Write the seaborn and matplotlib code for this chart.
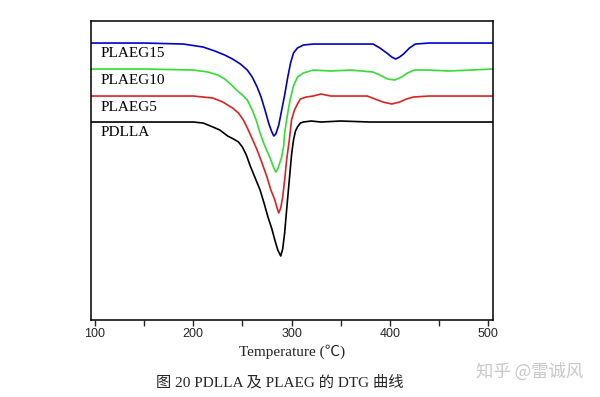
import numpy as np
import pandas as pd
import matplotlib
matplotlib.use("Agg")
import matplotlib.pyplot as plt
import seaborn as sns
from matplotlib.ticker import MultipleLocator

# DTG curves (arbitrary units, larger = deeper peak)
t_pdlla = [96, 150, 200, 210, 220, 227, 235, 241, 246, 250, 254, 258, 263, 268, 272, 276,
           280, 283, 286, 289, 291, 293, 295, 298, 300, 302, 304, 306, 309, 312, 320, 330,
           350, 380, 420, 460, 505]
d_pdlla = [122, 122, 122, 123, 127, 130, 136, 139, 142, 147, 155, 166, 178, 190, 203, 217,
           229, 240, 250, 256, 249, 233, 210, 177, 155, 140, 131, 127, 123, 122, 121, 122,
           121, 122, 122, 122, 122]

t_plaeg5 = [96, 150, 200, 220, 230, 240, 246, 251, 256, 261, 265, 270, 275, 279, 283, 285,
            287, 289, 291, 293, 295, 298, 300, 303, 306, 309, 315, 322, 330, 340, 377, 385,
            393, 402, 410, 417, 424, 440, 505]
d_plaeg5 = [96, 96, 96, 98, 102, 108, 113, 120, 130, 141, 150, 163, 177, 190, 200, 207,
            213, 208, 197, 180, 160, 138, 120, 110, 104, 99, 97, 96, 94, 96, 96, 99,
            102, 104, 102, 99, 97, 96, 96]

t_plaeg10 = [96, 150, 200, 215, 225, 232, 238, 244, 250, 255, 260, 264, 268, 272, 276, 279,
             282, 284, 286, 288, 290, 292, 293, 295, 297, 299, 302, 306, 312, 322, 340, 360,
             383, 390, 398, 405, 412, 418, 425, 440, 460, 505]
d_plaeg10 = [69, 69, 70, 72, 75, 79, 84, 90, 95, 100, 110, 120, 133, 144, 153, 160,
             168, 172, 169, 163, 157, 146, 133, 120, 108, 98, 86, 77, 73, 70, 71, 70,
             72, 75, 79, 80, 77, 73, 70, 70, 71, 69]

t_plaeg15 = [96, 150, 190, 210, 222, 232, 240, 248, 255, 260, 265, 269, 273, 277, 280, 282,
             284, 287, 290, 293, 296, 299, 302, 306, 312, 322, 350, 383, 390, 397, 402, 406,
             410, 414, 420, 426, 440, 505]
d_plaeg15 = [43, 43, 44, 47, 51, 55, 59, 64, 70, 77, 87, 97, 110, 124, 132, 136,
             134, 125, 110, 95, 78, 63, 53, 48, 45, 44, 44, 44, 48, 53, 57, 59,
             57, 54, 48, 44, 43, 43]

names = ["PLAEG15", "PLAEG10", "PLAEG5", "PDLLA"]
colors = ["#0000cc", "#33dd33", "#dd2222", "#000000"]
label_y = [53, 80, 107, 132]

series = {
    "PLAEG15": (t_plaeg15, d_plaeg15),
    "PLAEG10": (t_plaeg10, d_plaeg10),
    "PLAEG5": (t_plaeg5, d_plaeg5),
    "PDLLA": (t_pdlla, d_pdlla),
}

sns.set_style("ticks")
plt.rcParams["font.family"] = ["Liberation Serif", "Noto Sans CJK SC", "DejaVu Sans"]

fig = plt.figure(figsize=(6, 3.97), dpi=100)
ax = fig.add_axes([0.1517, 0.194, 0.67, 0.753])

for name, col in zip(names, colors):
    t, d = series[name]
    sns.lineplot(x=t, y=-np.array(d), color=col, lw=1.2, ax=ax, sort=False)

for name, ly in zip(names, label_y):
    ax.text(106, -ly, name, fontsize=11, va="center", ha="left", color="black")

ax.set_xlim(95.9, 505.1)
ax.set_ylim(-320, -21)
ax.set_yticks([])
ax.xaxis.set_major_locator(MultipleLocator(100))
ax.xaxis.set_minor_locator(MultipleLocator(50))
ax.tick_params(axis="x", which="major", direction="out", length=4, width=1, labelsize=9,
               pad=2)
ax.tick_params(axis="x", which="minor", direction="out", length=4, width=1)
for lab in ax.get_xticklabels():
    lab.set_fontfamily("Liberation Sans")
for s in ax.spines.values():
    s.set_visible(True)
    s.set_linewidth(1.1)
    s.set_color("black")

ax.set_xlabel("Temperature (℃)", fontsize=11, labelpad=3)

fig.text(0.467, 0.038, "图 20 PDLLA 及 PLAEG 的 DTG 曲线", fontsize=11,
         ha="center", va="center")
fig.text(0.883, 0.063, "知乎 @雷诚风", fontsize=12.5, ha="center", va="center",
         color="#c8c8c8", family=["Noto Sans CJK SC", "DejaVu Sans"])

fig.savefig("out.png", dpi=100)
